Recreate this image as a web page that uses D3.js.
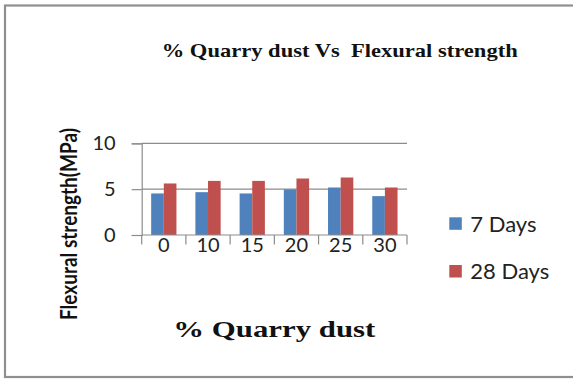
<!DOCTYPE html>
<html>
<head>
<meta charset="utf-8">
<script src="https://cdn.jsdelivr.net/npm/d3@7"></script>
<style>
  html, body { margin: 0; padding: 0; background: #fff; }
  svg { display: block; }
</style>
</head>
<body>
<svg id="chart" width="573" height="379"></svg>
<script>
// Flexural strength (MPa) by quarry dust replacement level
const categories = ["0", "10", "15", "20", "25", "30"];
const seriesNames = ["7 Days", "28 Days"];
const days7 = [4.53, 4.67, 4.53, 4.97, 5.18, 4.24];
const days28 = [5.62, 5.90, 5.90, 6.16, 6.27, 5.18];
const yTicks = [0, 5, 10];
const colors = ["#4F81BD", "#C0504D"];

const seriesValues = [days7, days28];
const rows = categories.map((c, i) => ({
  category: c,
  values: seriesNames.map((s, j) => ({ series: s, value: seriesValues[j][i] }))
}));

const svg = d3.select("#chart");
const plot = { left: 141.7, right: 407, top: 143.3, bottom: 235 };

// chart frame
svg.append("rect")
  .attr("x", 5).attr("y", 5.5)
  .attr("width", 590).attr("height", 371.5)
  .attr("fill", "none")
  .attr("stroke", "#8f8f8f")
  .attr("stroke-width", 2.2);

const x0 = d3.scaleBand().domain(categories).range([plot.left, plot.right]).padding(0);
const x1 = d3.scaleBand().domain(seriesNames).range([0, x0.bandwidth()])
  .paddingInner(0).paddingOuter(0.75);
const y = d3.scaleLinear().domain([0, 10]).range([plot.bottom, plot.top]);

// gridlines
svg.append("g")
  .selectAll("line")
  .data(yTicks.filter(t => t > 0))
  .join("line")
  .attr("x1", plot.left).attr("x2", plot.right)
  .attr("y1", d => y(d)).attr("y2", d => y(d))
  .attr("stroke", "#8c8c8c").attr("stroke-width", 1.2);

// bars
svg.append("g")
  .selectAll("g")
  .data(rows)
  .join("g")
  .attr("transform", d => `translate(${x0(d.category)},0)`)
  .selectAll("rect")
  .data(d => d.values)
  .join("rect")
  .attr("x", d => x1(d.series))
  .attr("width", x1.bandwidth())
  .attr("y", d => y(d.value))
  .attr("height", d => y(0) - y(d.value))
  .attr("fill", (d, i) => colors[i]);

// y axis
const yAxis = svg.append("g")
  .attr("transform", `translate(${plot.left},0)`)
  .call(d3.axisLeft(y).tickValues(yTicks).tickSize(10).tickPadding(16));
yAxis.select(".domain").attr("stroke", "#8c8c8c").attr("stroke-width", 1.2);
yAxis.selectAll(".tick line").attr("stroke", "#8c8c8c").attr("stroke-width", 1.2);
yAxis.selectAll(".tick text")
  .attr("font-family", "Lato, 'Open Sans', sans-serif")
  .attr("font-size", 20)
  .attr("fill", "#222");

// x axis with ticks on category boundaries
const xAxisG = svg.append("g").attr("transform", `translate(0,${plot.bottom})`);
xAxisG.append("line")
  .attr("x1", plot.left).attr("x2", plot.right)
  .attr("stroke", "#8c8c8c").attr("stroke-width", 1.2);
const boundaries = categories.map(c => x0(c)).concat([x0(categories[categories.length - 1]) + x0.bandwidth()]);
xAxisG.selectAll("line.tick")
  .data(boundaries)
  .join("line")
  .attr("class", "tick")
  .attr("x1", d => d).attr("x2", d => d)
  .attr("y1", 0).attr("y2", 9.5)
  .attr("stroke", "#8c8c8c").attr("stroke-width", 1.2);
xAxisG.selectAll("text")
  .data(categories)
  .join("text")
  .attr("x", d => x0(d) + x0.bandwidth() / 2)
  .attr("y", 17)
  .attr("text-anchor", "middle")
  .attr("font-family", "Lato, 'Open Sans', sans-serif")
  .attr("font-size", 20)
  .attr("fill", "#222")
  .text(d => d);

// chart title
svg.append("text")
  .attr("x", 161.7).attr("y", 56.7)
  .attr("textLength", 356).attr("lengthAdjust", "spacingAndGlyphs")
  .attr("font-family", "'Liberation Serif', 'Times New Roman', serif")
  .attr("font-weight", "bold")
  .attr("font-size", 19)
  .attr("fill", "#111")
  .style("white-space", "pre")
  .text("% Quarry dust Vs  Flexural strength");

// x axis title
svg.append("text")
  .attr("x", 173.3).attr("y", 336.7)
  .attr("textLength", 202).attr("lengthAdjust", "spacingAndGlyphs")
  .attr("font-family", "'Liberation Serif', 'Times New Roman', serif")
  .attr("font-weight", "bold")
  .attr("font-size", 24)
  .attr("fill", "#111")
  .text("% Quarry dust");

// y axis title
svg.append("text")
  .attr("transform", "translate(76.5,320) rotate(-90)")
  .attr("x", 0).attr("y", 0)
  .attr("textLength", 192).attr("lengthAdjust", "spacingAndGlyphs")
  .attr("font-family", "Lato, 'Open Sans', sans-serif")
  .attr("font-weight", "bold")
  .attr("font-size", 23)
  .attr("fill", "#111")
  .text("Flexural strength(MPa)");

// legend
const legend = svg.append("g")
  .selectAll("g")
  .data(seriesNames)
  .join("g")
  .attr("transform", (d, i) => `translate(449.3,${217.3 + i * 47.7})`);
legend.append("rect")
  .attr("width", 12.5).attr("height", 12.5)
  .attr("fill", (d, i) => colors[i]);
legend.append("text")
  .attr("x", 21).attr("y", 14.3)
  .attr("font-family", "Lato, 'Open Sans', sans-serif")
  .attr("font-size", 22)
  .attr("fill", "#222")
  .text(d => d);
</script>
</body>
</html>
